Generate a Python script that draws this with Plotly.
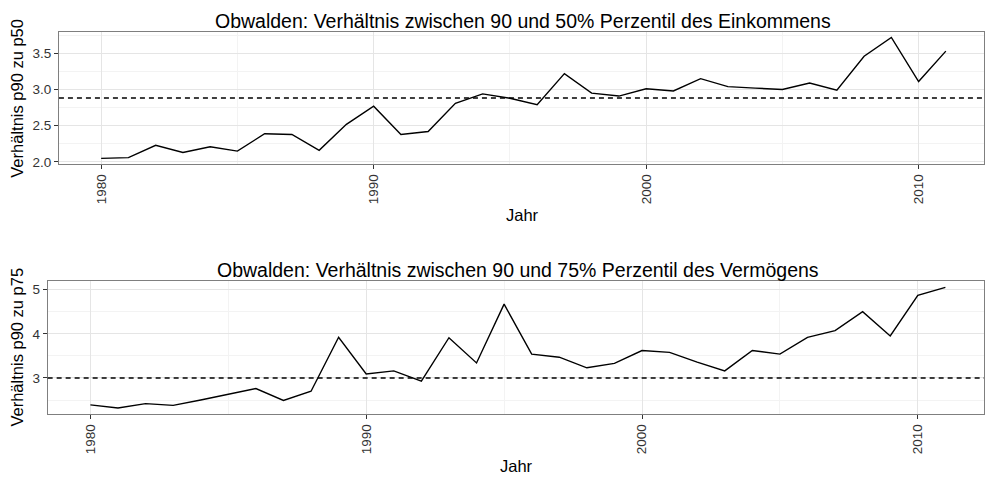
import plotly.graph_objects as go

# Obwalden: ratio series by year
years = list(range(1980, 2012))

income_p90_p50 = [
    2.05, 2.06, 2.23, 2.13, 2.21, 2.15, 2.39, 2.38, 2.16, 2.52,
    2.77, 2.38, 2.42, 2.81, 2.94, 2.88, 2.79, 3.22, 2.95, 2.91,
    3.01, 2.98, 3.15, 3.04, 3.02, 3.00, 3.09, 2.99, 3.46, 3.72,
    3.11, 3.53,
]
wealth_p90_p75 = [
    2.39, 2.32, 2.42, 2.38, 2.50, 2.63, 2.76, 2.49, 2.70, 3.92,
    3.09, 3.16, 2.93, 3.91, 3.34, 4.67, 3.54, 3.47, 3.23, 3.33,
    3.62, 3.58, 3.36, 3.16, 3.62, 3.54, 3.92, 4.07, 4.50, 3.95,
    4.87, 5.05,
]
income_ref = 2.883
wealth_ref = 3.0

titles = [
    "Obwalden: Verhältnis zwischen 90 und 50% Perzentil des Einkommens",
    "Obwalden: Verhältnis zwischen 90 und 75% Perzentil des Vermögens",
]
y_titles = ["Verhältnis p90 zu p50", "Verhältnis p90 zu p75"]
x_title = "Jahr"

W, H = 985, 479
FONT = "Liberation Sans, Arial, sans-serif"
TICK_FONT = dict(family=FONT, size=13.5, color="#333333")

fig = go.Figure()

# line traces
fig.add_trace(go.Scatter(x=years, y=income_p90_p50, mode="lines",
                         line=dict(color="black", width=1.4),
                         xaxis="x", yaxis="y", showlegend=False))
fig.add_trace(go.Scatter(x=years, y=wealth_p90_p75, mode="lines",
                         line=dict(color="black", width=1.4),
                         xaxis="x2", yaxis="y2", showlegend=False))

# dashed reference lines
for ref, xa, ya in [(income_ref, "x", "y"), (wealth_ref, "x2", "y2")]:
    fig.add_shape(type="line", xref=f"{xa} domain", yref=ya,
                  x0=0, x1=1, y0=ref, y1=ref,
                  line=dict(color="black", width=1.4, dash="5px,4px"))

grid = "#e5e5e5"
minor_grid = "#f3f3f3"
border = "#7f7f7f"

common_x = dict(
    range=[1978.45, 2012.4], tickvals=[1980, 1990, 2000, 2010],
    tickangle=-90, ticks="outside", ticklen=4, tickcolor="#333333",
    tickfont=TICK_FONT,
    showgrid=True, gridcolor=grid, gridwidth=1,
    minor=dict(tickvals=[1985, 1995, 2005], showgrid=True,
               gridcolor=minor_grid, gridwidth=1, ticks=""),
    showline=True, linecolor=border, linewidth=1, mirror=True,
    zeroline=False,
)
common_y = dict(
    ticks="outside", ticklen=4, tickcolor="#333333",
    tickfont=TICK_FONT,
    showgrid=True, gridcolor=grid, gridwidth=1,
    showline=True, linecolor=border, linewidth=1, mirror=True,
    zeroline=False,
)

top = (32, 166)
bot = (284.3, 419)
left_top = 59
left_bot = 47.7

fig.update_layout(
    width=W, height=H,
    margin=dict(l=0, r=0, t=0, b=0),
    paper_bgcolor="white", plot_bgcolor="white",
    font=dict(family=FONT, color="black"),
    xaxis=dict(domain=[left_top / W, 1], anchor="y", **common_x),
    yaxis=dict(domain=[1 - top[1] / H, 1 - top[0] / H], anchor="x",
               range=[1.973, 3.80], tickvals=[2.0, 2.5, 3.0, 3.5],
               ticktext=["2.0", "2.5", "3.0", "3.5"],
               minor=dict(tickvals=[2.25, 2.75, 3.25, 3.75], showgrid=True,
                          gridcolor=minor_grid, gridwidth=1, ticks=""),
               **common_y),
    xaxis2=dict(domain=[left_bot / W, 1], anchor="y2", **common_x),
    yaxis2=dict(domain=[1 - bot[1] / H, 1 - bot[0] / H], anchor="x2",
                range=[2.19, 5.2], tickvals=[3, 4, 5],
                minor=dict(tickvals=[2.5, 3.5, 4.5], showgrid=True,
                           gridcolor=minor_grid, gridwidth=1, ticks=""),
                **common_y),
)

# panel titles, axis titles
ann = []
for title, (t0, t1), left in [(titles[0], top, left_top), (titles[1], bot, left_bot)]:
    cx = (left + 989) / 2 / W
    ann.append(dict(text=title, x=cx, y=1 - (t0 + 2) / H, xref="paper", yref="paper",
                    xanchor="center", yanchor="bottom", showarrow=False,
                    font=dict(family=FONT, size=19.5, color="black")))
ann.append(dict(text=y_titles[0], x=17 / W, y=1 - 99 / H, xref="paper", yref="paper",
                textangle=-90, xanchor="center", yanchor="middle", showarrow=False,
                font=dict(family=FONT, size=16.5, color="black")))
ann.append(dict(text=y_titles[1], x=17 / W, y=1 - 351 / H, xref="paper", yref="paper",
                textangle=-90, xanchor="center", yanchor="middle", showarrow=False,
                font=dict(family=FONT, size=16.5, color="black")))
ann.append(dict(text=x_title, x=523 / W, y=1 - 218 / H, xref="paper", yref="paper",
                xanchor="center", yanchor="middle", showarrow=False,
                font=dict(family=FONT, size=16.5, color="black")))
ann.append(dict(text=x_title, x=517 / W, y=1 - 472 / H, xref="paper", yref="paper",
                xanchor="center", yanchor="middle", showarrow=False,
                font=dict(family=FONT, size=16.5, color="black")))
fig.update_layout(annotations=ann)

fig.write_html("out.html")
